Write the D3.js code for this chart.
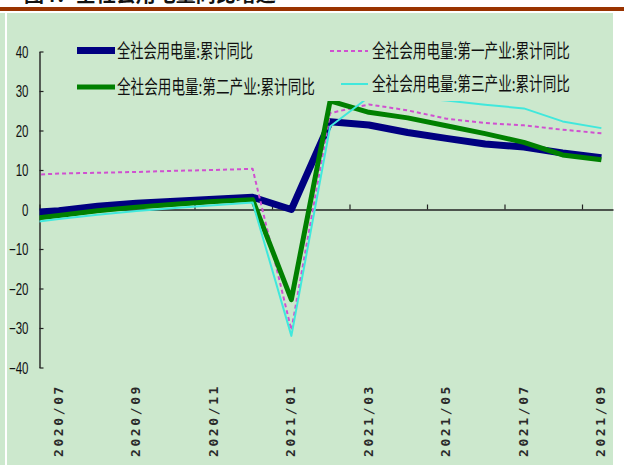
<!DOCTYPE html>
<html>
<head>
<meta charset="utf-8">
<script src="https://cdn.jsdelivr.net/npm/d3@7"></script>
<style>
  html, body { margin: 0; padding: 0; background: #ffffff; }
  svg { display: block; }
</style>
</head>
<body>
<svg id="chart" width="624" height="465"></svg>
<script>
// Monthly cumulative year-on-year growth of electricity consumption (%)
const months = ["2020/06","2020/07","2020/08","2020/09","2020/10","2020/11","2020/12",
                "2021/01","2021/02","2021/03","2021/04","2021/05","2021/06","2021/07","2021/08","2021/09"];
const totalYoY     = [-1.0, -0.3, 0.8, 1.6, 2.1, 2.6, 3.1, 0.0, 22.2, 21.4, 19.5, 18.0, 16.6, 15.8, 14.3, 13.1];
const primaryYoY   = [8.6, 9.1, 9.3, 9.5, 9.8, 10.0, 10.3, -30.5, 24.4, 26.6, 25.1, 23.0, 21.9, 21.3, 20.2, 19.3];
const secondaryYoY = [-2.6, -1.5, -0.3, 0.6, 1.3, 2.0, 2.5, -22.8, 27.5, 24.6, 23.2, 21.2, 19.2, 17.0, 13.8, 12.6];
const tertiaryYoY  = [-3.6, -2.4, -1.3, -0.4, 0.4, 1.1, 1.8, -32.0, 21.0, 28.5, 28.4, 27.6, 26.5, 25.6, 22.3, 20.6];
const xTickLabels  = ["2020/07","2020/09","2020/11","2021/01","2021/03","2021/05","2021/07","2021/09"];
const yTicks       = [-40, -30, -20, -10, 0, 10, 20, 30, 40];
const seriesNames  = ["全社会用电量:累计同比", "全社会用电量:第一产业:累计同比",
                      "全社会用电量:第二产业:累计同比", "全社会用电量:第三产业:累计同比"];

const panelFill = "#cce8cd";
const svg = d3.select("#chart");

// page furniture: heading running off the top, rule and the chart panel
svg.append("text").attr("x", 24).attr("y", 2)
  .attr("font-family", "Noto Sans CJK SC").attr("font-size", 20).attr("font-weight", 700)
  .attr("fill", "#111").text("图4：全社会用电量同比增速");
svg.append("rect").attr("x", 0).attr("y", 7).attr("width", 624).attr("height", 4).attr("fill", "#993300");
svg.append("rect").attr("x", 0).attr("y", 13).attr("width", 5).attr("height", 452).attr("fill", panelFill);
svg.append("rect").attr("x", 7).attr("y", 13).attr("width", 606).attr("height", 452).attr("fill", panelFill);

// scales: month index -> x, percentage -> y
const x = d3.scaleLinear().domain([0.5, 15.3]).range([39.5, 613]);
const y = d3.scaleLinear().domain([-40, 40]).range([367.5, 51.5]);

svg.append("clipPath").attr("id", "plotClip")
  .append("rect").attr("x", x(0.5)).attr("y", 0).attr("width", x(15.3) - x(0.5)).attr("height", 465);

// y axis: ticks pointing into the plot, condensed labels
const yAxis = svg.append("g").attr("transform", `translate(${x(0.5)},0)`)
  .call(d3.axisLeft(y).tickValues(yTicks).tickSizeInner(-4).tickSizeOuter(0).tickFormat(d3.format("d")));
yAxis.select(".domain").attr("stroke", "#222").attr("stroke-width", 1.4);
yAxis.selectAll(".tick line").attr("stroke", "#222").attr("stroke-width", 1.2);
yAxis.selectAll(".tick text")
  .attr("x", 0).attr("dy", "0.36em")
  .attr("transform", "translate(-11,0) scale(0.72,1)")
  .attr("font-family", "Liberation Sans, Arial, sans-serif").attr("font-size", 16).attr("fill", "#111");

// x axis along the zero line, ticks on every other month boundary
const boundaryTicks = xTickLabels.map(m => months.indexOf(m) - 0.5);
const xAxis = svg.append("g").attr("transform", `translate(0,${y(0)})`)
  .call(d3.axisBottom(x).tickValues(boundaryTicks).tickSizeInner(-5).tickSizeOuter(0).tickFormat(""));
xAxis.select(".domain").attr("stroke", "#222").attr("stroke-width", 1.4);
xAxis.selectAll(".tick line").attr("stroke", "#222").attr("stroke-width", 1.2);

// rotated month labels under the plot
svg.append("g").selectAll("text").data(xTickLabels).join("text")
  .attr("transform", d => `translate(${x(months.indexOf(d)) + 4},384) rotate(-90)`)
  .attr("text-anchor", "end")
  .attr("font-family", "DejaVu Sans Mono, monospace").attr("font-size", 13).attr("font-weight", 700)
  .attr("letter-spacing", 2.6).attr("fill", "#2a2a2a")
  .text(d => d);

// series lines
const series = [
  { name: seriesNames[0], values: totalYoY,     color: "#000080", width: 7, dash: null },
  { name: seriesNames[1], values: primaryYoY,   color: "#d050d0", width: 2, dash: "4,3" },
  { name: seriesNames[2], values: secondaryYoY, color: "#008000", width: 5, dash: null },
  { name: seriesNames[3], values: tertiaryYoY,  color: "#40e8dc", width: 2, dash: null }
];
const line = d3.line().x((d, i) => x(i)).y(d => y(d));
svg.append("g").attr("clip-path", "url(#plotClip)")
  .selectAll("path").data(series).join("path")
  .attr("d", s => line(s.values))
  .attr("fill", "none")
  .attr("stroke", s => s.color)
  .attr("stroke-width", s => s.width)
  .attr("stroke-dasharray", s => s.dash)
  .attr("stroke-linejoin", "round");

// legend: two opaque boxes, two rows each
svg.append("rect").attr("x", 72).attr("y", 36).attr("width", 248).attr("height", 65).attr("fill", panelFill);
svg.append("rect").attr("x", 327).attr("y", 36).attr("width", 282).attr("height", 65).attr("fill", panelFill);

const legendLayout = [
  { s: series[0], x0: 77,  x1: 115, tx: 117, ty: 50.5, len: 136 },
  { s: series[1], x0: 330, x1: 368, tx: 372, ty: 51,   len: 198 },
  { s: series[2], x0: 77,  x1: 115, tx: 117, ty: 87,   len: 198 },
  { s: series[3], x0: 341, x1: 368, tx: 372, ty: 84,   len: 198 }
];
const lg = svg.append("g").selectAll("g").data(legendLayout).join("g");
lg.append("line")
  .attr("x1", d => d.x0).attr("x2", d => d.x1).attr("y1", d => d.ty).attr("y2", d => d.ty)
  .attr("stroke", d => d.s.color)
  .attr("stroke-width", d => d.s.width)
  .attr("stroke-dasharray", d => d.s.dash);
// legend labels are squeezed horizontally to the narrow face used in the legend
lg.append("text")
  .attr("font-family", "Noto Sans CJK SC").attr("font-size", 19).attr("fill", "#111")
  .text(d => d.s.name)
  .each(function (d) {
    const natural = this.getComputedTextLength();
    const sx = d.len / natural;
    d3.select(this).attr("transform", `translate(${d.tx},${d.ty + 7.2}) scale(${sx},1)`);
  });
</script>
</body>
</html>
